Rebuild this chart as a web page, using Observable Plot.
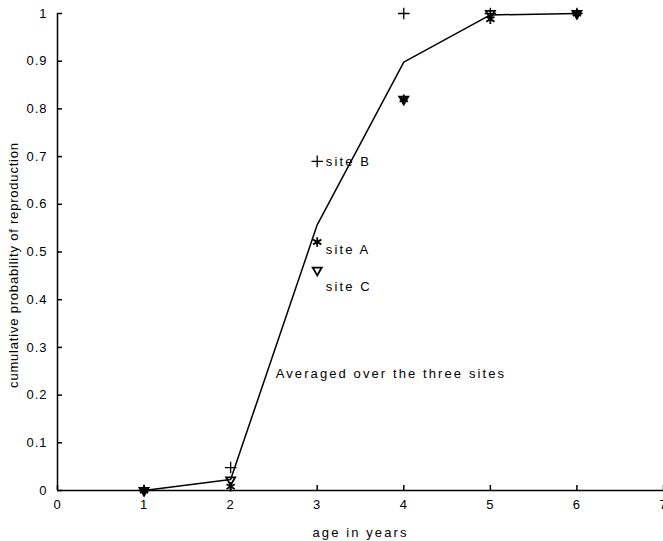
<!DOCTYPE html>
<html>
<head>
<meta charset="utf-8">
<script src="https://cdn.jsdelivr.net/npm/d3@7"></script>
<script src="https://cdn.jsdelivr.net/npm/@observablehq/plot@0.6"></script>
<style>
  html, body { margin: 0; padding: 0; background: #fff; }
  #chart svg { display: block; }
  #chart svg g[aria-label="x-axis label"] text,
  #chart svg g.annot text { letter-spacing: 2.1px; }
  #chart svg g.ylab text { letter-spacing: 0.8px; }
</style>
</head>
<body>
<div id="chart"></div>
<script>
const ages = [1, 2, 3, 4, 5, 6];
const averaged = [0, 0.023, 0.557, 0.898, 0.997, 1.0];
const siteA = [0, 0.008, 0.521, 0.82, 0.988, 1.0];
const siteB = [0, 0.048, 0.69, 1.0, 1.0, 1.0];
const siteC = [0, 0.022, 0.462, 0.82, 1.0, 1.0];

const xTicks = [0, 1, 2, 3, 4, 5, 6, 7];
const yTicks = [0, 0.1, 0.2, 0.3, 0.4, 0.5, 0.6, 0.7, 0.8, 0.9, 1];

const labelText = ["site B", "site A", "site C", "Averaged over the three sites"];
const labelX = [3.1, 3.1, 3.1, 2.52];
const labelY = [0.69, 0.504, 0.426, 0.245];
const yTitle = "cumulative probability of reproduction";

const W = 663, H = 541;
const mL = 57, mR = 0, mT = 13, mB = 51;
const plotW = W - mL - mR, plotH = H - mT - mB;

const avgData = ages.map((a, i) => ({age: a, p: averaged[i]}));
const mk = arr => ages.map((a, i) => ({age: a, p: arr[i]}));
const labels = labelText.map((t, i) => ({t, x: labelX[i], y: labelY[i]}));

const chart = Plot.plot({
  width: W,
  height: H,
  marginLeft: mL,
  marginRight: mR,
  marginTop: mT,
  marginBottom: mB,
  style: {fontFamily: "'Liberation Sans', Helvetica, Arial, sans-serif", fontSize: "13px", letterSpacing: "1px", color: "#000", background: "#fff"},
  x: {domain: [0, 7]},
  y: {domain: [0, 1]},
  marks: [
    Plot.axisX({ticks: xTicks, tickSize: 0, tickPadding: 9, fontSize: 13, tickFormat: d => String(d), label: "age in years", labelAnchor: "center", labelArrow: "none", labelOffset: 46}),
    Plot.axisY({ticks: yTicks, tickSize: 0, tickPadding: 10, fontSize: 13, tickFormat: d => String(+d.toFixed(1)), label: null}),
    Plot.text([yTitle], {frameAnchor: "left", text: d => d, rotate: -90, dx: -44, dy: 13, textAnchor: "middle", lineAnchor: "middle", fill: "#000", fontSize: 13, className: "ylab"}),
    Plot.tickY(yTicks, {y: d => d, insetRight: plotW - 5, stroke: "#000", strokeWidth: 1.5}),
    Plot.tickX(xTicks, {x: d => d, insetTop: plotH - 5, stroke: "#000", strokeWidth: 1.5}),
    Plot.ruleX([0], {stroke: "#000", strokeWidth: 1.5}),
    Plot.ruleY([0], {stroke: "#000", strokeWidth: 1.5}),
    Plot.line(avgData, {x: "age", y: "p", stroke: "#000", strokeWidth: 1.5}),
    Plot.dot(mk(siteB), {x: "age", y: "p", symbol: "plus", r: 3.8, stroke: "#000", strokeWidth: 1.3}),
    Plot.dot(mk(siteC), {x: "age", y: "p", symbol: "triangle2", r: 4.3, rotate: 180, stroke: "#000", strokeWidth: 1.8}),
    Plot.dot(mk(siteA), {x: "age", y: "p", symbol: "asterisk", r: 4.5, stroke: "#000", strokeWidth: 1.8}),
    Plot.text(labels, {x: "x", y: "y", text: "t", textAnchor: "start", fill: "#000", fontSize: 13, className: "annot"})
  ]
});
document.getElementById("chart").appendChild(chart);
</script>
</body>
</html>
